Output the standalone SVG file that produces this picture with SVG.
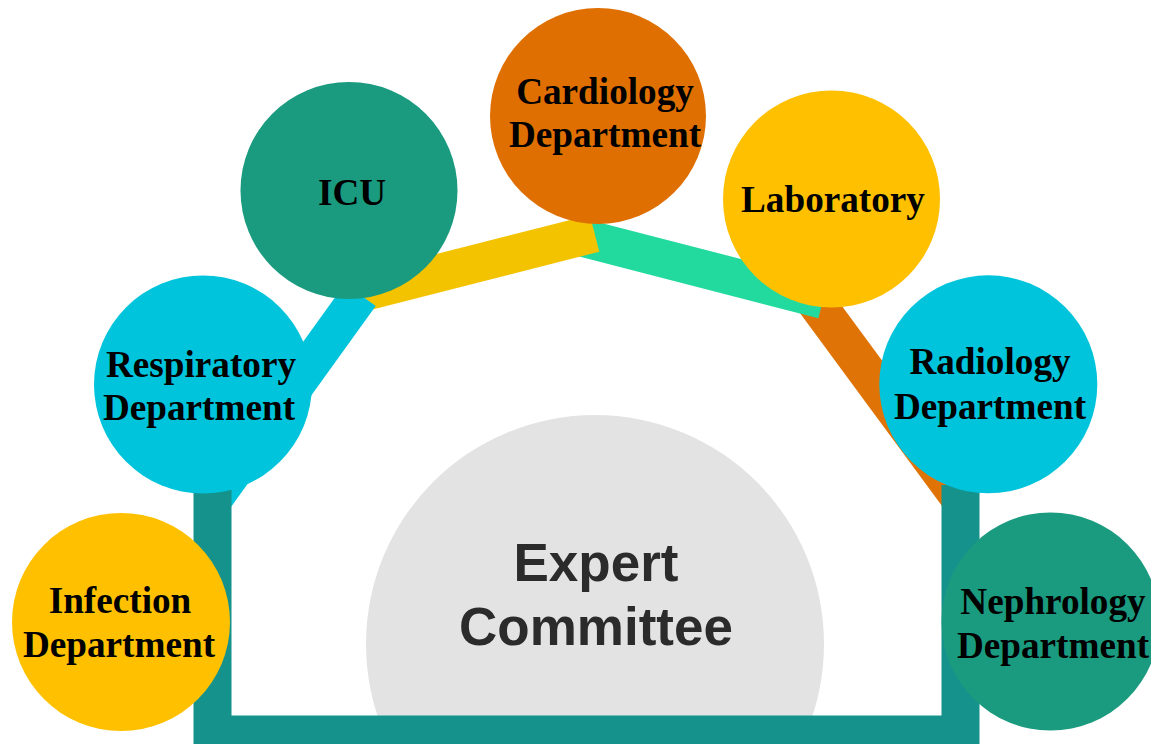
<svg xmlns="http://www.w3.org/2000/svg" width="1151" height="744" viewBox="0 0 1151 744">
<style>
.lbl{font-family:"Liberation Serif","Times New Roman",serif;font-weight:bold;font-size:37.2px;fill:#000;text-anchor:middle}
.big{font-family:"Liberation Sans",Arial,sans-serif;font-weight:bold;font-size:53px;fill:#2b2b2b;text-anchor:middle}
.bar{fill:none;stroke-width:38;stroke-linecap:butt}
.cy{fill:#00c4db}.ye{fill:#ffc000}.tl{fill:#1a9b7f}.or{fill:#df6f00}
</style>
<rect width="1151" height="744" fill="#fff"/>
<g id="expert-committee">
<circle cx="595" cy="644" r="229" fill="#e3e3e3"/>
<text class="big"><tspan x="596" y="581">Expert</tspan><tspan x="596" y="645">Committee</tspan></text>
</g>
<g id="connectors">
<line class="bar" x1="810.6" y1="295.6" x2="961.2" y2="500" stroke="#e07306"/>
<line class="bar" x1="583" y1="237.8" x2="823.1" y2="299.9" stroke="#22da9e"/>
<line class="bar" x1="362" y1="292.6" x2="594.6" y2="233.3" stroke="#f3c300"/>
<line class="bar" x1="360.3" y1="294.9" x2="209" y2="505" stroke="#00c4db"/>
<path class="bar" d="M212.5,490 V734.5 H960.5 V485" stroke="#15928c" stroke-width="39" stroke-linejoin="miter"/>
</g>
<g id="infection-department">
<circle class="ye" cx="121" cy="622" r="109"/>
<text class="lbl"><tspan x="120" y="613">Infection</tspan><tspan x="119" y="657">Department</tspan></text>
</g>
<g id="respiratory-department">
<circle class="cy" cx="203" cy="384.5" r="109"/>
<text class="lbl"><tspan x="201" y="377">Respiratory</tspan><tspan x="199" y="420">Department</tspan></text>
</g>
<g id="icu">
<circle class="tl" cx="349" cy="190.5" r="108.5"/>
<text class="lbl" x="352" y="205">ICU</text>
</g>
<g id="cardiology-department">
<circle class="or" cx="598" cy="116" r="108"/>
<text class="lbl"><tspan x="605" y="104">Cardiology</tspan><tspan x="605" y="147">Department</tspan></text>
</g>
<g id="laboratory">
<circle class="ye" cx="831.5" cy="199" r="108.5"/>
<text class="lbl" x="833" y="212">Laboratory</text>
</g>
<g id="radiology-department">
<circle class="cy" cx="988.3" cy="384.3" r="109"/>
<text class="lbl"><tspan x="990" y="374">Radiology</tspan><tspan x="990" y="419">Department</tspan></text>
</g>
<g id="nephrology-department">
<circle class="tl" cx="1050.5" cy="621.5" r="109"/>
<text class="lbl"><tspan x="1053" y="614">Nephrology</tspan><tspan x="1053" y="658">Department</tspan></text>
</g>
</svg>
